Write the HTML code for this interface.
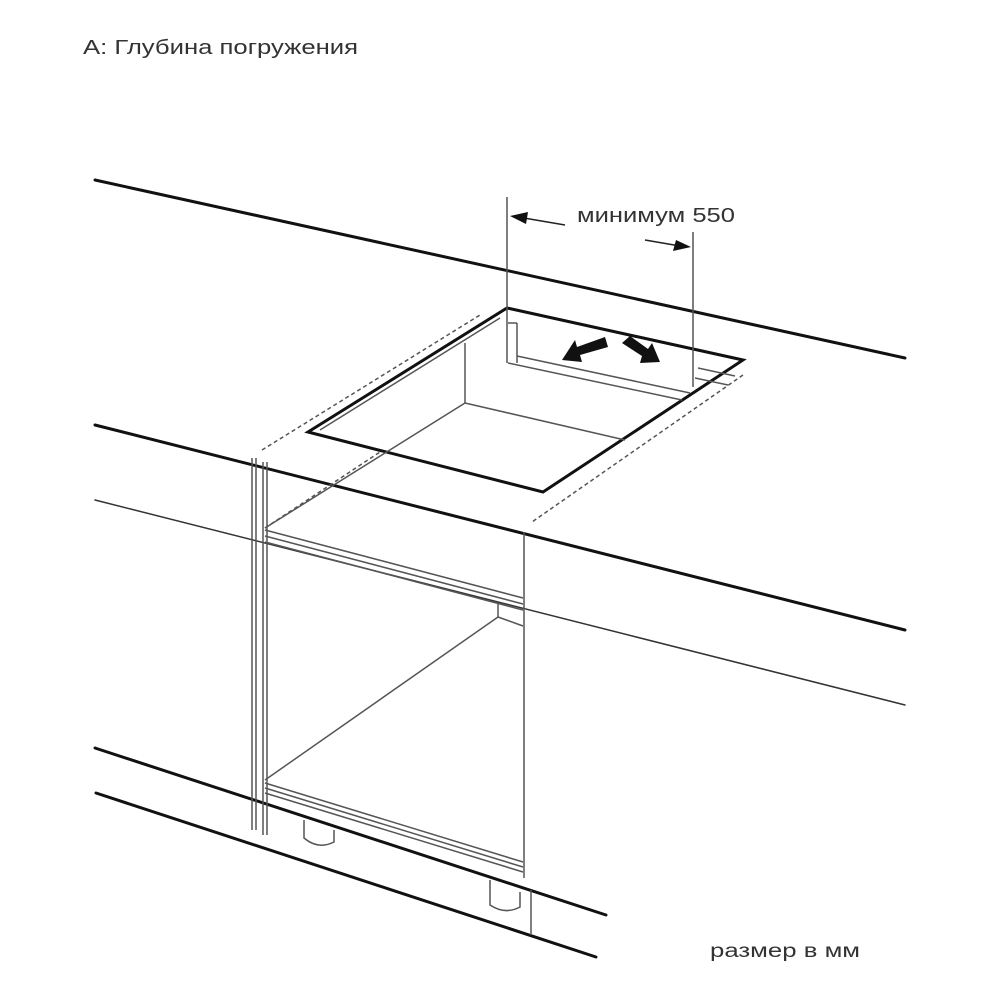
<!DOCTYPE html>
<html><head><meta charset="utf-8"><style>
html,body{margin:0;padding:0;background:#fff;}
svg{display:block;}
text{font-family:"Liberation Sans",sans-serif;fill:#333;}
</style></head><body>
<svg width="1000" height="1000" viewBox="0 0 1000 1000" xmlns="http://www.w3.org/2000/svg">
<text x="83" y="54" font-size="20" textLength="275" lengthAdjust="spacingAndGlyphs">А: Глубина погружения</text>
<text x="577" y="222" font-size="20" textLength="158" lengthAdjust="spacingAndGlyphs">минимум 550</text>
<text x="710" y="957" font-size="19" textLength="150" lengthAdjust="spacingAndGlyphs">размер в мм</text>

<g stroke="#111" fill="none" stroke-linecap="round">
 <line x1="95" y1="180" x2="905" y2="358" stroke-width="3"/>
 <line x1="95" y1="425" x2="905" y2="630" stroke-width="3"/>
 <line x1="95" y1="500" x2="905" y2="705" stroke-width="1.5" stroke="#333"/>
 <line x1="95" y1="748" x2="606" y2="915" stroke-width="3"/>
 <line x1="96" y1="793" x2="596" y2="957" stroke-width="3"/>
 <polygon points="308,432 507,308 743,360 543,492" stroke-width="3"/>
</g>

<g stroke="#555" fill="none" stroke-width="1.5">
 <line x1="320" y1="430" x2="500" y2="318"/>
 <line x1="465" y1="343" x2="465" y2="403"/>
 <line x1="465" y1="403" x2="625" y2="440"/>
 <line x1="465" y1="403" x2="265" y2="528"/>
 <line x1="517" y1="323" x2="517" y2="363"/>
 <line x1="508" y1="323" x2="517" y2="323"/>
 <line x1="508" y1="363" x2="682" y2="400"/>
 <line x1="517" y1="356" x2="690" y2="393"/>
 <line x1="698" y1="368" x2="735" y2="376"/>
 <line x1="695" y1="378" x2="728" y2="385"/>
 <line x1="507" y1="197" x2="507" y2="363"/>
 <line x1="693" y1="232" x2="693" y2="387"/>
 <line x1="518" y1="217" x2="565" y2="225" stroke="#222"/>
 <line x1="645" y1="240" x2="680" y2="246" stroke="#222"/>
 <line x1="252" y1="458" x2="252" y2="830"/>
 <line x1="256" y1="458" x2="256" y2="830"/>
 <line x1="263" y1="462" x2="263" y2="835"/>
 <line x1="267" y1="462" x2="267" y2="835"/>
 <line x1="524" y1="532" x2="524" y2="878"/>
 <line x1="531" y1="890" x2="531" y2="935"/>
 <line x1="265" y1="530" x2="523" y2="598"/>
 <line x1="265" y1="536" x2="523" y2="604"/>
 <line x1="265" y1="542" x2="523" y2="610"/>
 <line x1="265" y1="780" x2="498" y2="617"/>
 <line x1="498" y1="603" x2="498" y2="617"/>
 <line x1="498" y1="617" x2="523" y2="626"/>
 <line x1="265" y1="783" x2="523" y2="862"/>
 <line x1="265" y1="788" x2="523" y2="867"/>
 <line x1="265" y1="793" x2="523" y2="872"/>
 <path d="M304 820 V838 Q318 850 334 842 V830"/>
 <path d="M490 880 V905 Q505 915 520 907 V892"/>
</g>

<g stroke="#555" fill="none" stroke-width="1.5" stroke-dasharray="4,3">
 <line x1="262" y1="450" x2="480" y2="315"/>
 <line x1="743" y1="375" x2="532" y2="522"/>
 <line x1="265" y1="528" x2="380" y2="452"/>
</g>

<polygon points="510,216 528,212 526,224" fill="#111"/>
<polygon points="691,247 673,251 676,240" fill="#111"/>

<polygon points="562,360 575,340 577,347 605,337 608,347 580,355 582,362" fill="#111"/>
<polygon points="660,362 640,363 642,356 622,343 630,336 648,349 652,343" fill="#111"/>
</svg>
</body></html>
